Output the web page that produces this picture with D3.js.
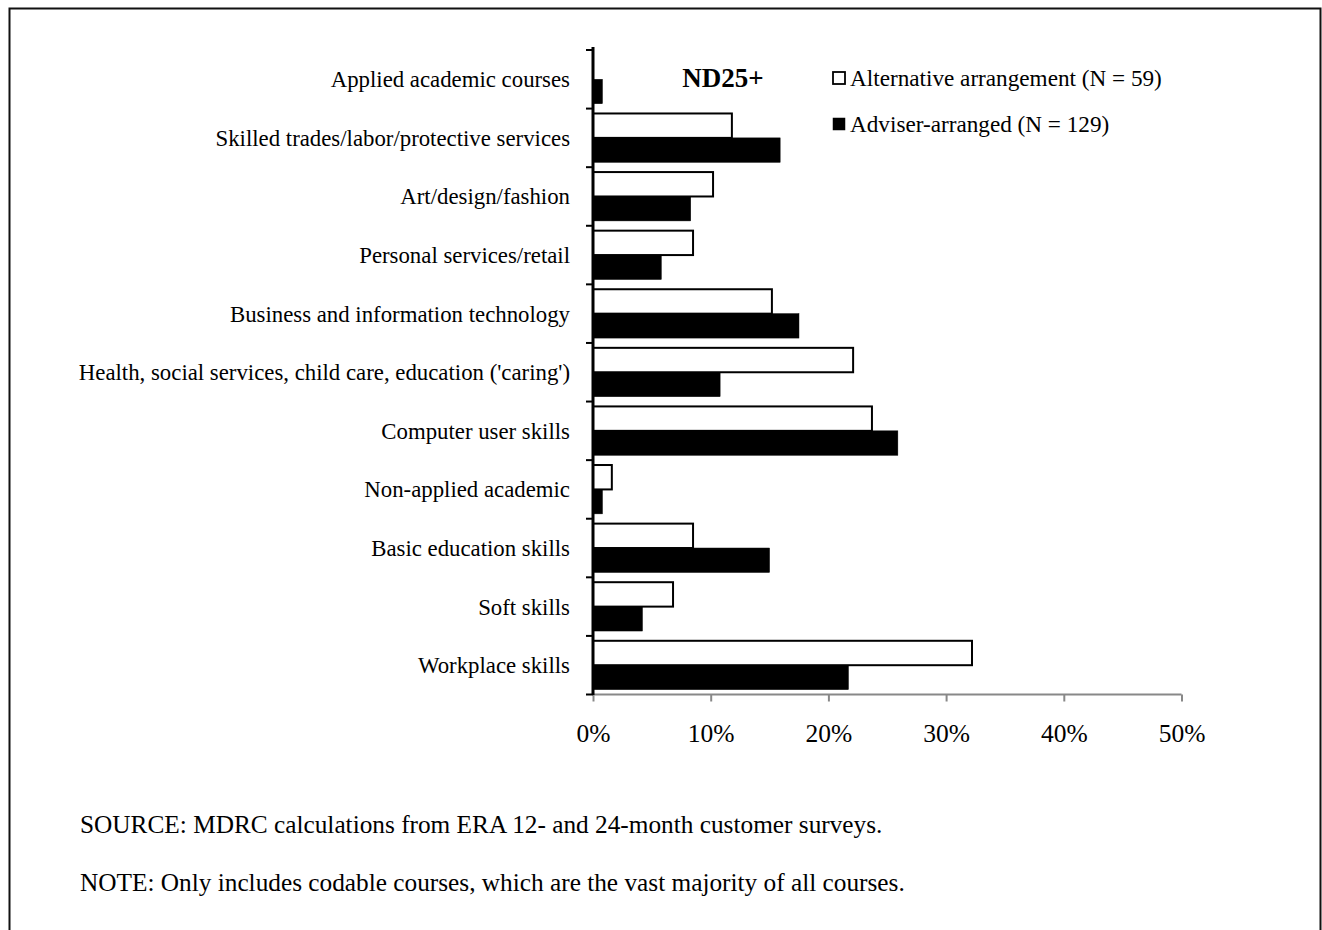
<!DOCTYPE html>
<html><head><meta charset="utf-8">
<script src="https://cdn.jsdelivr.net/npm/d3@7"></script>
<style>
html,body{margin:0;padding:0;background:#fff;}
svg{display:block;font-family:"Liberation Serif","Times New Roman",serif;}
</style></head>
<body>
<svg id="chart" width="1322" height="930"></svg>
<script>
const categories = ["Applied academic courses","Skilled trades/labor/protective services","Art/design/fashion","Personal services/retail","Business and information technology","Health, social services, child care, education ('caring')","Computer user skills","Non-applied academic","Basic education skills","Soft skills","Workplace skills"];
const alternative = [0, 11.8, 10.2, 8.5, 15.2, 22.1, 23.7, 1.6, 8.5, 6.8, 32.2];
const adviser = [0.8, 15.9, 8.3, 5.8, 17.5, 10.8, 25.9, 0.8, 15.0, 4.2, 21.7];
const seriesNames = ["Alternative arrangement (N = 59)","Adviser-arranged (N = 129)"];
const xTicks = [0,10,20,30,40,50];
const title = "ND25+";
const notes = ["SOURCE: MDRC calculations from ERA 12- and 24-month customer surveys.","NOTE: Only includes codable courses, which are the vast majority of all courses."];

const svg = d3.select("#chart");
// outer frame (open at bottom)
svg.append("path").attr("d","M9.5,931 V8.5 H1320.5 V931").attr("fill","none").attr("stroke","#111").attr("stroke-width",2);

const x = d3.scaleLinear().domain([0,50]).range([593,1181.5]);
const y = d3.scaleBand().domain(categories).range([50,694.5]).paddingInner(0).paddingOuter(0);
const inner = d3.scaleBand().domain([0,1]).range([0,y.bandwidth()]).paddingInner(0).paddingOuter(0.2);

const g = svg.append("g");
categories.forEach((c,i)=>{
  const vals=[alternative[i], adviser[i]];
  vals.forEach((v,j)=>{
    if(v<=0) return;
    g.append("rect")
      .attr("x", x(0)).attr("y", y(c)+inner(j))
      .attr("width", x(v)-x(0)).attr("height", inner.bandwidth())
      .attr("fill", j===0?"#fff":"#000")
      .attr("stroke","#000").attr("stroke-width", j===0?2:0.5);
  });
});

// x axis
const xAxis = g.append("g").attr("transform","translate(0,694.5)")
  .call(d3.axisBottom(x).tickValues(xTicks).tickSize(7).tickFormat(d=>d+"%"));
xAxis.select(".domain").attr("stroke","#888").attr("stroke-width",2).attr("d","M593,0H1181.5");
xAxis.selectAll(".tick line").attr("stroke","#888").attr("stroke-width",2);
xAxis.selectAll(".tick text").attr("font-size",25.5).attr("fill","#000").attr("font-family","Liberation Serif").attr("dy","0").attr("y",47);

// y axis
const yTickPos = d3.range(categories.length+1).map(i=>50+i*y.step());
const yAxisG = g.append("g");
yAxisG.append("line").attr("x1",593).attr("x2",593).attr("y1",47).attr("y2",695).attr("stroke","#000").attr("stroke-width",3);
yAxisG.selectAll("line.t").data(yTickPos).join("line").attr("class","t")
  .attr("x1",586).attr("x2",593).attr("y1",d=>d).attr("y2",d=>d).attr("stroke","#000").attr("stroke-width",2);
yAxisG.selectAll("text").data(categories).join("text")
  .attr("x",570).attr("y",d=>y(d)+y.bandwidth()/2+8)
  .attr("text-anchor","end").attr("font-size",22.8).text(d=>d);

// title
svg.append("text").attr("x",723).attr("y",87).attr("text-anchor","middle").attr("font-size",27).attr("font-weight","bold").text(title);

// legend
const leg = svg.append("g");
seriesNames.forEach((s,i)=>{
  const yy = 78 + i*46;
  leg.append("rect").attr("x",833).attr("y",yy-6).attr("width",12).attr("height",12)
    .attr("fill", i===0?"#fff":"#000").attr("stroke","#000").attr("stroke-width",i===0?1.8:0.5);
  leg.append("text").attr("x",850).attr("y",yy+8).attr("font-size",23.2).text(s);
});

// notes
notes.forEach((n,i)=>{
  svg.append("text").attr("x",80).attr("y",833+i*58).attr("font-size",25.3).text(n);
});
</script>
</body></html>
